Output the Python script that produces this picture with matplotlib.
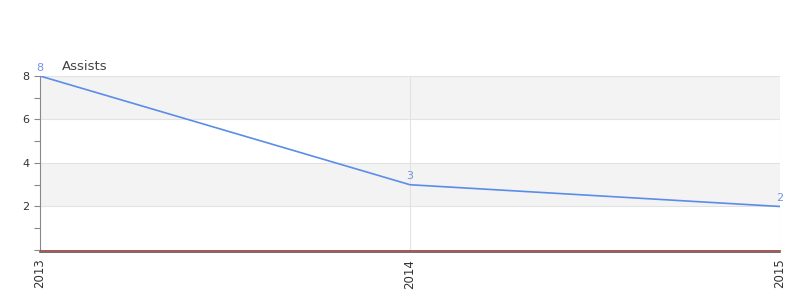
import matplotlib
matplotlib.use("Agg")
import matplotlib.pyplot as plt
from matplotlib.ticker import MultipleLocator

years = ["2013", "2014", "2015"]
assists = [8, 3, 2]
series_name = "Assists"

fig = plt.figure(figsize=(8, 3), dpi=100)
ax = fig.add_axes([0.05, 0.1667, 0.925, 0.58])
x = list(range(len(years)))

ax.set_xlim(0, len(years) - 1)
ax.set_ylim(0, 8)

# alternating bands
for lo in (2, 6):
    ax.axhspan(lo, lo + 2, color="#f3f3f3", zorder=0, lw=0)
for yv in (2, 4, 6, 8):
    ax.axhline(yv, color="#e2e2e2", lw=0.8, zorder=1)
for xv in x[1:]:
    ax.axvline(xv, color="#e2e2e2", lw=0.8, zorder=1)

ax.plot(x, assists, color="#5b8de8", lw=1.2, zorder=3)
for xi, v in zip(x, assists):
    ax.annotate(str(v), (xi, v), xytext=(0, 2.5), textcoords="offset points",
                ha="center", va="bottom", color="#6f95e0", fontsize=8)

ax.axhline(0, color="#d62020", lw=0.6, zorder=6, clip_on=False)

for s in ("top", "right"):
    ax.spines[s].set_visible(False)
ax.spines["left"].set_color("#888888")
ax.spines["bottom"].set_color("#555555")
ax.spines["bottom"].set_linewidth(1.2)
ax.spines["bottom"].set_position(("outward", 1.3))

ax.set_yticks([2, 4, 6, 8])
ax.yaxis.set_minor_locator(MultipleLocator(1))
ax.tick_params(axis="y", which="both", color="#888888", labelcolor="#333333",
               labelsize=8, length=4, width=0.8)
ax.set_xticks(x)
ax.set_xticklabels(years, rotation=90)
ax.tick_params(axis="x", length=0, labelsize=8.5, labelcolor="#333333", pad=5)

fig.text(62 / 800, 1 - 66 / 300, series_name, fontsize=9.5, color="#444444",
         ha="left", va="center")

fig.savefig("out.png", dpi=100)
